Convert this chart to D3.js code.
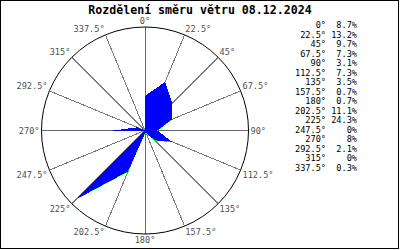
<!DOCTYPE html>
<html>
<head>
<meta charset="utf-8">
<script src="https://cdn.jsdelivr.net/npm/d3@7"></script>
<style>
  html, body { margin: 0; padding: 0; background: #fff; }
  svg { display: block; }
</style>
</head>
<body>
<svg id="chart" width="400" height="250"></svg>
<script>
// Wind direction distribution (percent per direction)
const titleText = 'Rozdělení směru větru 08.12.2024';
const directions = [0, 22.5, 45, 67.5, 90, 112.5, 135, 157.5, 180, 202.5, 225, 247.5, 270, 292.5, 315, 337.5];
const shares = [8.7, 13.2, 9.7, 7.3, 3.1, 7.3, 3.5, 0.7, 0.7, 11.1, 24.3, 0, 8, 2.1, 0, 0.3];

const svg = d3.select('#chart');
const W = 400, H = 250;
const cx = 145, cy = 130.5, R = 103.5;
const MONO = '"DejaVu Sans Mono", "Liberation Mono", monospace';

// frame
svg.append('rect')
  .attr('x', 0.5).attr('y', 0.5).attr('width', W - 2).attr('height', H - 2)
  .attr('fill', '#fff').attr('stroke', '#000');

svg.append('text')
  .attr('x', 200).attr('y', 14)
  .attr('text-anchor', 'middle')
  .attr('font-family', MONO).attr('font-weight', 'bold').attr('font-size', 11.6)
  .attr('fill', '#000')
  .text(titleText);

const r = d3.scaleLinear().domain([0, 26]).range([0, R]);
const ang = d3.scaleLinear().domain([0, 360]).range([0, 2 * Math.PI]);
const px = (deg, rad) => cx + rad * Math.sin(ang(deg));
const py = (deg, rad) => cy - rad * Math.cos(ang(deg));

const g = svg.append('g');

// spokes
g.selectAll('line.spoke').data(directions).join('line')
  .attr('class', 'spoke')
  .attr('x1', cx).attr('y1', cy)
  .attr('x2', d => px(d, R)).attr('y2', d => py(d, R))
  .attr('stroke', d => d % 90 === 0 ? '#6a6a6a' : '#7a7a7a')
  .attr('stroke-width', 1)
  .attr('shape-rendering', 'crispEdges');

// rose polygon (green under-layer peeks out along some edges)
const line = d3.line().curve(d3.curveLinearClosed);
const pts = directions.map((d, i) => [px(d, r(shares[i])), py(d, r(shares[i]))]);
g.append('path')
  .attr('d', line(pts))
  .attr('transform', 'translate(0,0.45)')
  .attr('fill', '#00ff00')
  .attr('shape-rendering', 'crispEdges');
g.append('path')
  .attr('d', line(pts))
  .attr('fill', '#0000ff')
  .attr('shape-rendering', 'crispEdges');

// outer circle
g.append('circle')
  .attr('cx', cx).attr('cy', cy).attr('r', R)
  .attr('fill', 'none').attr('stroke', '#000').attr('stroke-width', 1);

// direction labels
g.selectAll('text.dir').data(directions).join('text')
  .attr('class', 'dir')
  .attr('x', d => px(d, R + 2))
  .attr('y', d => py(d, R + 2))
  .attr('text-anchor', d => {
    const s = Math.sin(ang(d));
    return s > 0.1 ? 'start' : s < -0.1 ? 'end' : 'middle';
  })
  .attr('dy', d => {
    const c = Math.cos(ang(d));
    return c > 0.1 ? '-0.15em' : c < -0.1 ? '0.85em' : '0.35em';
  })
  .attr('font-family', MONO).attr('font-size', 8.6)
  .attr('fill', '#505050')
  .text(d => d + '°');

// legend table
const rowH = 9.5, legTop = 28;
const leg = svg.append('g')
  .attr('font-family', MONO).attr('font-size', 8.6).attr('fill', '#000');
leg.selectAll('text.deg').data(directions).join('text')
  .attr('class', 'deg')
  .attr('x', 326).attr('y', (d, i) => legTop + i * rowH)
  .attr('text-anchor', 'end')
  .text(d => d + '°');
leg.selectAll('text.pct').data(shares).join('text')
  .attr('class', 'pct')
  .attr('x', 357).attr('y', (d, i) => legTop + i * rowH)
  .attr('text-anchor', 'end')
  .text(d => d + '%');
</script>
</body>
</html>
